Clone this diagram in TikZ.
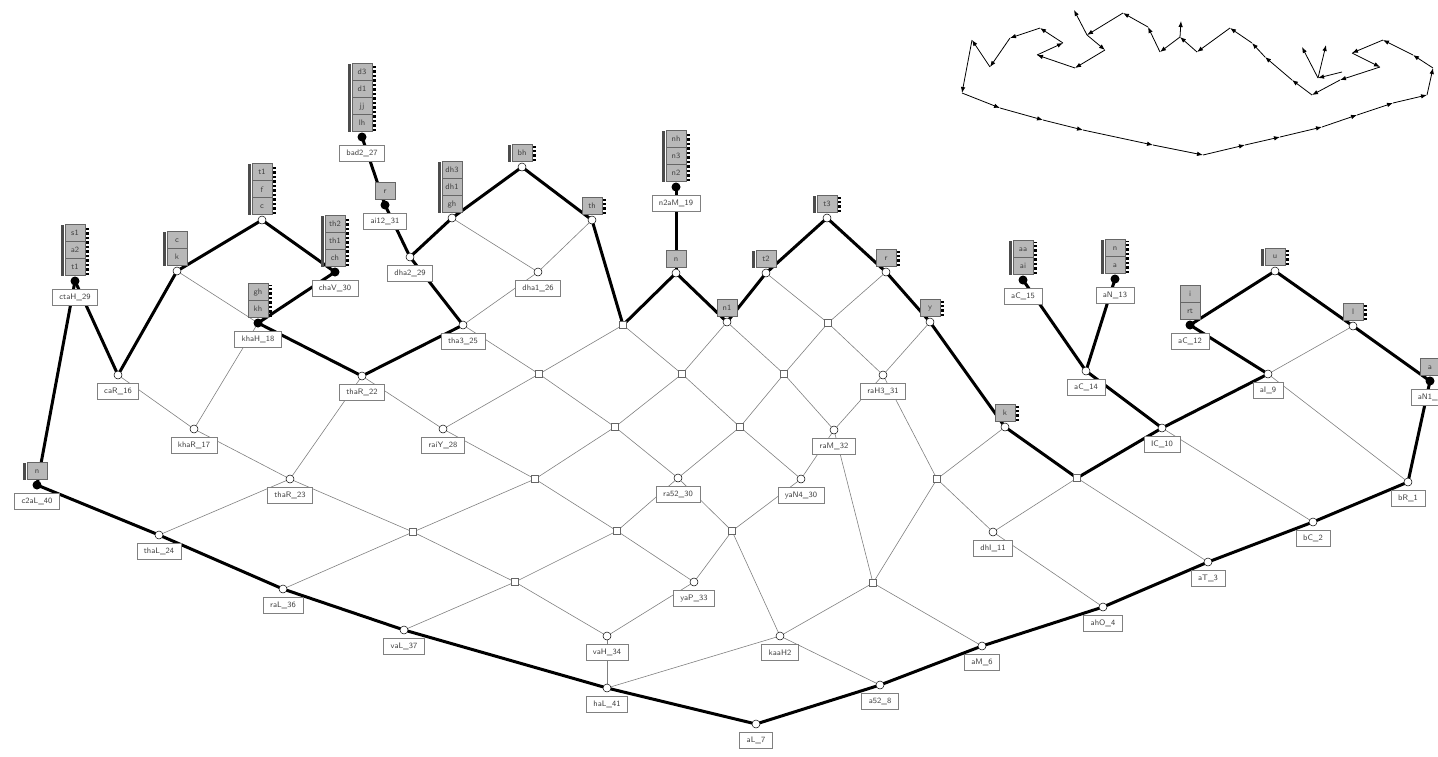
\documentclass[tikz,border=0pt]{standalone}
\usepackage{tikz}
\usetikzlibrary{positioning,arrows.meta}

% cells of attribute names stacked above a lattice point
\newcommand{\attrs}[2]{%
  \foreach \lbl [count=\i] in {#2}
    \node[attrcell, anchor=south] at ([yshift={5pt+(\i-1)*17pt}]#1) {\lbl};}
\newcommand{\attrbar}[2]{%
  \fill[black!70] ([xshift=-14pt,yshift=5pt]#1) rectangle ++(3pt,{#2*17pt});}
\newcommand{\attrdots}[2]{%
  \draw[black, line width=3pt, dash pattern=on 2.5pt off 2pt] ([xshift=12.5pt,yshift=6pt]#1) -- ++(0pt,{#2*17pt-2pt});}

\begin{document}
\begin{tikzpicture}[x=1pt, y=-1pt,
thinedge/.style={black!50, line width=0.6pt},
thickedge/.style={black, line width=3pt, line cap=round},
objpt/.style={circle, draw, line width=0.5pt, fill=white, inner sep=0pt, minimum size=8pt,
  path picture={\fill (path picture bounding box.west) rectangle (path picture bounding box.south east);}},
attrpt/.style={circle, draw, line width=0.5pt, fill=white, inner sep=0pt, minimum size=8pt,
  path picture={\fill (path picture bounding box.north west) rectangle (path picture bounding box.east);}},
fullpt/.style={circle, fill=black, inner sep=0pt, minimum size=9pt},
emptypt/.style={rectangle, draw=black!60, fill=white, line width=0.6pt, inner sep=0pt, minimum size=7pt},
objlabel/.style={draw=black!50, fill=white, line width=0.6pt, inner xsep=7pt, inner ysep=1pt, minimum height=16pt, text=black!75},
attrcell/.style={draw=black!60, fill=black!28, line width=0.6pt, inner sep=1pt, minimum width=20pt, minimum height=17pt, text=black!75},
tourstep/.style={black, line width=0.8pt, -{Latex[length=6pt, width=4.5pt]}}]
\tikzstyle{every node}=[font=\fontsize{8}{9}\selectfont\sffamily]
\useasboundingbox (0,0) rectangle (1438,756);

% lattice points
\foreach \n/\x/\y in {ctaH/75/281, cpt/177/271, topA/262/220, chaV/335/272, khaH/258/323,
  caR/118/375, khaR/194/429, thaRb/362/376, thaRc/290/479, raiY/443/429, thaL/159/535,
  raL/283/589, vaL/404/630, c2aL/37/485, bad/362/137, aii/385/205, dhaB/410/257,
  dhpt/452/218, topB/522/167, thpt/592/220, dhaA/538/272, tha/463/325, naM/676/187,
  npt/676/273, kpt/727/322, tpt/766/273, topC/827/218, rpt/886/272, ypt/930/322,
  raH/883/375, raM/834/430, raF/678/478, yaN/801/479, yaP/694/582, vaH/607/636,
  haL/607/688, kaa/780/636, aL/756/724, aFt/880/685, aM/982/646, ahO/1103/607,
  aT/1208/562, bC/1313/522, bR/1408/482, dhI/993/532, kk/1005/427, IC/1162/428,
  aCd/1086/371, aCe/1023/280, aN/1115/279, aCc/1190/325, topD/1275/271, rr/1353/326,
  aNa/1430/381, aI/1268/374,
  e1/623/325, e2/828/323, e3/539/374, e4/682/374, e5/784/374, e6/615/427, e7/740/427,
  e8/535/479, e9/413/532, e10/617/531, e11/732/531, e12/515/582, e13/937/479,
  e14/873/583, e15/1077/478}
  \coordinate (\n) at (\x,\y);

% thin cover edges
\foreach \a/\b in {cpt/khaH, khaH/khaR, caR/khaR, khaR/thaRc, thaRb/thaRc, thaRb/raiY,
  dhpt/dhaA, thpt/dhaA, dhaA/tha, tha/e3, e1/e3, e3/raiY, e3/e6, raiY/e8, thaRc/thaL,
  thaRc/e9, e9/raL, e8/e9, e8/e10, e6/e8, e9/e12, e12/vaL, e12/vaH, e6/raF, e4/e6,
  e1/e4, kpt/e4, e4/e7, kpt/e5, tpt/e2, rpt/e2, e2/e5, e2/raH, ypt/raH, e5/e7, e5/raM,
  raH/raM, raH/e13, e7/raF, e7/yaN, raM/yaN, raM/e14, raF/e10, raF/e11, yaN/e11,
  e10/yaP, e10/e12, e11/yaP, e11/kaa, yaP/vaH, vaH/haL, haL/kaa, kaa/aFt, e14/kaa,
  e14/aM, e13/e14, kk/e13, e13/dhI, e15/dhI, dhI/ahO, e15/aT, IC/bC, aI/bR, rr/aI}
  \draw[thinedge] (\a) -- (\b);

% thick edges
\foreach \a/\b in {ctaH/c2aL, ctaH/caR, cpt/caR, topA/cpt, topA/chaV, chaV/khaH,
  khaH/thaRb, thaRb/tha, dhaB/tha, aii/dhaB, bad/aii, dhaB/dhpt, dhpt/topB, topB/thpt,
  thpt/e1, e1/npt, naM/npt, npt/kpt, kpt/tpt, tpt/topC, topC/rpt, rpt/ypt, ypt/kk,
  kk/e15, e15/IC, aCd/IC, aCe/aCd, aN/aCd, aCc/aI, topD/aCc, topD/rr, rr/aNa, aI/IC,
  aNa/bR, c2aL/thaL, thaL/raL, raL/vaL, vaL/haL, haL/aL, aL/aFt, aFt/aM, aM/ahO,
  ahO/aT, aT/bC, bC/bR}
  \draw[thickedge] (\a) -- (\b);

% markers
\foreach \v in {caR, khaR, thaRb, thaRc, raiY, thaL, raL, vaL, dhaB, dhaA, tha, raH,
  raM, raF, yaN, yaP, vaH, haL, kaa, aL, aFt, aM, ahO, aT, bC, bR, dhI, IC, aCd, aI}
  \node[objpt] at (\v) {};
\foreach \v in {cpt, topA, dhpt, topB, thpt, npt, kpt, tpt, topC, rpt, ypt, kk, topD, rr}
  \node[attrpt] at (\v) {};
\foreach \v in {ctaH, chaV, khaH, c2aL, bad, aii, naM, aCe, aN, aCc, aNa}
  \node[fullpt] at (\v) {};
\foreach \v in {e1,e2,e3,e4,e5,e6,e7,e8,e9,e10,e11,e12,e13,e14,e15}
  \node[emptypt] at (\v) {};

% object labels
\foreach \v/\t in {ctaH/ctaH\_29, chaV/chaV\_30, khaH/khaH\_18, c2aL/c2aL\_40,
  bad/bad2\_27, aii/ai12\_31, naM/n2aM\_19, aCe/aC\_15, aN/aN\_13, aCc/aC\_12,
  aNa/aN1\_7, caR/caR\_16, khaR/khaR\_17, thaRb/thaR\_22, thaRc/thaR\_23,
  raiY/raiY\_28, thaL/thaL\_24, raL/raL\_36, vaL/vaL\_37, dhaB/dha2\_29,
  dhaA/dha1\_26, tha/tha3\_25, raH/raH3\_31, raM/raM\_32, raF/ra52\_30,
  yaN/yaN4\_30, yaP/yaP\_33, vaH/vaH\_34, haL/haL\_41, kaa/kaaH2, aL/aL\_7,
  aFt/a52\_8, aM/aM\_6, ahO/ahO\_4, aT/aT\_3, bC/bC\_2, bR/bR\_1, dhI/dhI\_11,
  IC/IC\_10, aCd/aC\_14, aI/aI\_9}
  \node[objlabel, below=8pt] at (\v) {\t};

% attribute stacks
\attrs{ctaH}{t1,a2,s1} \attrbar{ctaH}{3} \attrdots{ctaH}{3}
\attrs{cpt}{k,c} \attrbar{cpt}{2}
\attrs{topA}{c,f,t1} \attrbar{topA}{3} \attrdots{topA}{3}
\attrs{chaV}{ch,th1,th2} \attrbar{chaV}{3} \attrdots{chaV}{3}
\attrs{khaH}{kh,gh} \attrdots{khaH}{2}
\attrs{bad}{lh,jj,d1,d3} \attrbar{bad}{4} \attrdots{bad}{4}
\attrs{aii}{r}
\attrs{dhpt}{gh,dh1,dh3} \attrbar{dhpt}{3}
\attrs{topB}{bh} \attrbar{topB}{1} \attrdots{topB}{1}
\attrs{thpt}{th} \attrdots{thpt}{1}
\attrs{naM}{n2,n3,nh} \attrbar{naM}{3} \attrdots{naM}{3}
\attrs{npt}{n}
\attrs{kpt}{n1}
\attrs{tpt}{t2} \attrbar{tpt}{1}
\attrs{topC}{t3} \attrbar{topC}{1} \attrdots{topC}{1}
\attrs{rpt}{r} \attrdots{rpt}{1}
\attrs{ypt}{y} \attrdots{ypt}{1}
\attrs{kk}{k} \attrdots{kk}{1}
\attrs{aCe}{ai,aa} \attrbar{aCe}{2} \attrdots{aCe}{2}
\attrs{aN}{a,n} \attrbar{aN}{2} \attrdots{aN}{2}
\attrs{aCc}{rt,i}
\attrs{topD}{u} \attrbar{topD}{1} \attrdots{topD}{1}
\attrs{rr}{l} \attrdots{rr}{1}
\attrs{aNa}{a}
\attrs{c2aL}{n} \attrbar{c2aL}{1}

% overview of the thick path, upper right
\foreach \x/\y [count=\i] in {962/93, 1000/108, 1043/120, 1083/130, 1153/145,
  1203/155, 1245/145, 1280/137, 1322/127, 1357/115, 1393/103, 1427/95, 1433/68,
  1413/55, 1383/40, 1352/53, 1380/67, 1340/80, 1312/95, 1292/80, 1265/57, 1252/43,
  1230/28, 1197/52, 1180/37, 1160/52, 1148/27, 1123/13, 1087/35, 1105/50, 1075/68,
  1037/55, 1063/43, 1040/28, 1010/38, 990/67, 972/40}
  \coordinate (w\i) at (\x,\y);
\foreach \i in {1,...,37} {
  \pgfmathtruncatemacro{\j}{mod(\i,37)+1}
  \draw[tourstep] (w\i) -- (w\j);
}
\coordinate (s0) at (1318,78);
\coordinate (s1) at (1074,10);
\coordinate (s2) at (1181,21);
\coordinate (s3) at (1302,47);
\coordinate (s4) at (1326,45);
\coordinate (s5) at (1342,72);
\draw[tourstep] (w29) -- (s1);
\draw[tourstep] (w25) -- (s2);
\draw[tourstep] (s0) -- (s3);
\draw[tourstep] (s0) -- (s4);
\draw[tourstep] (s5) -- (s0);
\end{tikzpicture}
\end{document}
